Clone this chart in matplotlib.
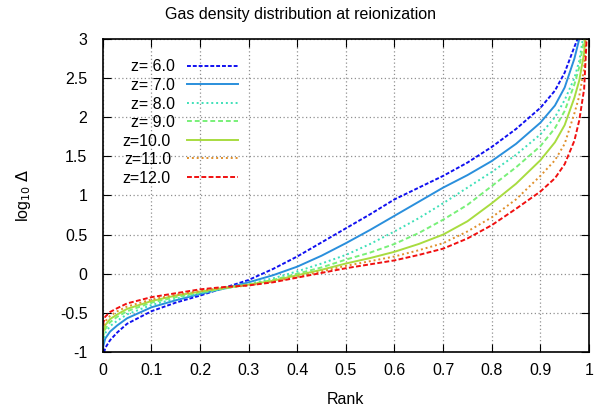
import matplotlib
matplotlib.use('Agg')
import matplotlib.pyplot as plt

plt.rcParams['font.family'] = ['Liberation Sans', 'DejaVu Sans']
plt.rcParams['axes.unicode_minus'] = False

rank = [0, 0.005, 0.015, 0.03, 0.05, 0.1, 0.15, 0.2, 0.25, 0.3, 0.35, 0.4,
        0.45, 0.5, 0.55, 0.6, 0.65, 0.7, 0.75, 0.8, 0.85, 0.9, 0.93, 0.95,
        0.97, 0.98, 0.99, 1.0]

z6 = [-1.08, -0.95, -0.85, -0.75, -0.64, -0.48, -0.37, -0.28, -0.18, -0.08,
      0.06, 0.22, 0.40, 0.58, 0.76, 0.95, 1.10, 1.25, 1.42, 1.62, 1.85, 2.12,
      2.34, 2.57, 2.90, 3.05, 3.35, 3.8]
z7 = [-0.95, -0.83, -0.74, -0.66, -0.57, -0.43, -0.34, -0.26, -0.19, -0.11,
      -0.02, 0.09, 0.23, 0.39, 0.56, 0.74, 0.92, 1.10, 1.26, 1.44, 1.66, 1.93,
      2.15, 2.38, 2.75, 3.00, 3.30, 3.8]
z8 = [-0.88, -0.76, -0.67, -0.60, -0.52, -0.40, -0.32, -0.25, -0.19, -0.13,
      -0.06, 0.03, 0.13, 0.24, 0.38, 0.54, 0.71, 0.90, 1.10, 1.30, 1.52, 1.78,
      2.00, 2.22, 2.50, 2.72, 3.10, 3.8]
z9 = [-0.82, -0.71, -0.62, -0.55, -0.48, -0.37, -0.30, -0.24, -0.19, -0.14,
      -0.08, 0.00, 0.08, 0.18, 0.27, 0.38, 0.52, 0.69, 0.88, 1.12, 1.36, 1.63,
      1.86, 2.08, 2.42, 2.64, 3.00, 3.8]
z10 = [-0.77, -0.66, -0.58, -0.52, -0.45, -0.35, -0.28, -0.23, -0.18, -0.14,
       -0.09, -0.02, 0.05, 0.13, 0.20, 0.28, 0.38, 0.50, 0.67, 0.90, 1.15,
       1.45, 1.68, 1.90, 2.25, 2.47, 2.82, 3.8]
z11 = [-0.72, -0.61, -0.54, -0.48, -0.42, -0.33, -0.27, -0.22, -0.18, -0.15,
       -0.10, -0.04, 0.03, 0.10, 0.16, 0.22, 0.30, 0.39, 0.54, 0.72, 0.95,
       1.25, 1.45, 1.66, 2.05, 2.27, 2.62, 3.7]
z12 = [-0.65, -0.55, -0.49, -0.44, -0.38, -0.30, -0.25, -0.20, -0.17, -0.15,
       -0.11, -0.05, 0.01, 0.07, 0.12, 0.17, 0.24, 0.32, 0.45, 0.62, 0.83,
       1.05, 1.22, 1.40, 1.70, 1.96, 2.36, 3.6]

labels = ['z= 6.0', 'z= 7.0', 'z= 8.0', 'z= 9.0', 'z=10.0', 'z=11.0', 'z=12.0']
series = [z6, z7, z8, z9, z10, z11, z12]
colors = ['#1010f0', '#2a8fdc', '#3ee0b8', '#78f078', '#a8dc40', '#e0902c', '#f01010']
styles = [(0, (2, 1)), '-', (0, (1, 1.5)), (0, (2.5, 1.5)), '-', (0, (1, 1.5)), (0, (2.5, 1.2))]

fig = plt.figure(figsize=(6.01, 4.15), dpi=100)
ax = fig.add_axes([0.171, 0.152, 0.809, 0.754])

for y, lab, c, ls in zip(series, labels, colors, styles):
    ax.plot(rank, y, color=c, ls=ls, lw=1.4, label=lab)

ax.set_xlim(0, 1)
ax.set_ylim(-1, 3)
ax.set_xticks([0, 0.1, 0.2, 0.3, 0.4, 0.5, 0.6, 0.7, 0.8, 0.9, 1])
ax.set_xticklabels(['0', '0.1', '0.2', '0.3', '0.4', '0.5', '0.6', '0.7', '0.8', '0.9', '1'])
ax.set_yticks([-1, -0.5, 0, 0.5, 1, 1.5, 2, 2.5, 3])
ax.set_yticklabels(['-1', '-0.5', '0', '0.5', '1', '1.5', '2', '2.5', '3'])
ax.tick_params(direction='in', length=6, width=0.8, top=True, right=True,
               labelsize=11.5)
ax.tick_params(axis='x', pad=8)
ax.tick_params(axis='y', pad=11)
ax.grid(True, color='#909090', ls=(0, (1, 2)), lw=0.9)
for s in ax.spines.values():
    s.set_linewidth(1.2)

fig.text(0.5, 0.965, 'Gas density distribution at reionization', fontsize=11.5,
         ha='center', va='center')
ax.set_xlabel('Rank', fontsize=11.5, labelpad=10)
ax.set_ylabel(r'log$_{10}$ $\Delta$', fontsize=11.5, labelpad=19)

leg = ax.legend(loc='upper left', bbox_to_anchor=(0.027, 0.955), frameon=False,
                markerfirst=False, fontsize=11.5, handlelength=3.2,
                handletextpad=1.0, labelspacing=0.22, borderaxespad=0)
fig.canvas.draw()
renderer = fig.canvas.get_renderer()
widths = [t.get_window_extent(renderer).width for t in leg.get_texts()]
wmax = max(widths)
for t, w in zip(leg.get_texts(), widths):
    t.set_position((wmax - w, 0))

fig.savefig('out.png', dpi=100)
